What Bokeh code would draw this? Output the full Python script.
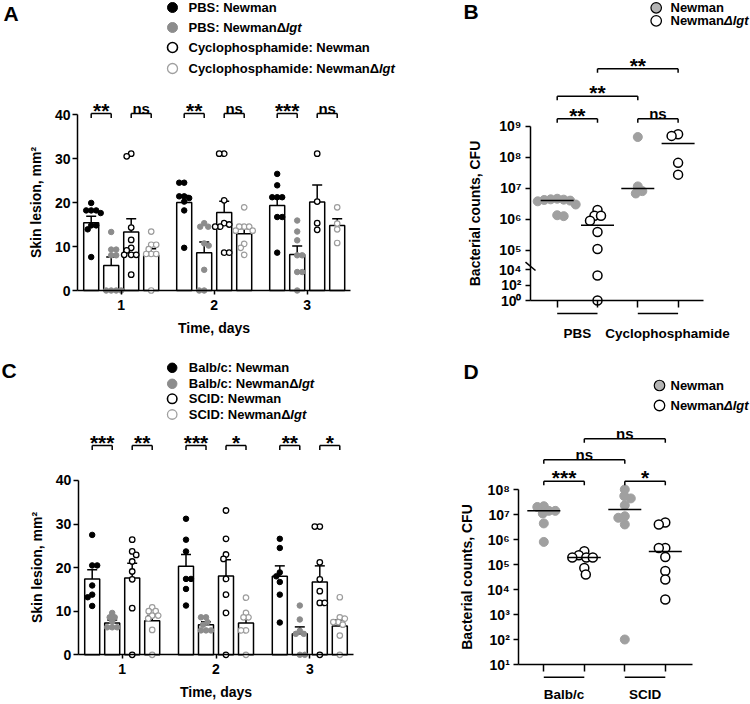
import math
from bokeh.plotting import figure
from bokeh.models import FixedTicker, Range1d
from bokeh.layouts import column, row
from bokeh.embed import file_html
from bokeh.resources import INLINE
from bokeh.core.properties import value

FONT = "Liberation Sans"

# ======================= DATA =======================
# ---- Panel A: skin lesion (mm^2), PBS vs cyclophosphamide ----
a_days = [1, 2, 3]
a_series = ["PBS: Newman", "PBS: NewmanΔlgt", "Cyclophosphamide: Newman", "Cyclophosphamide: NewmanΔlgt"]
a_mean_pbs_newman = [15.4, 20.0, 19.3]
a_sem_pbs_newman = [1.5, 1.6, 1.6]
a_mean_pbs_lgt = [5.7, 8.6, 8.2]
a_sem_pbs_lgt = [1.9, 2.4, 1.9]
a_mean_cyc_newman = [13.3, 17.7, 20.1]
a_sem_cyc_newman = [3.0, 2.6, 3.9]
a_mean_cyc_lgt = [8.0, 12.9, 14.8]
a_sem_cyc_lgt = [1.5, 1.2, 1.5]
a_pts_pbs_newman = [[19.9, 18.2, 18.2, 18.2, 17.6, 14.8, 14.8, 13.9, 7.6],
                    [24.5, 24.5, 21.4, 21.4, 21.0, 20.2, 18.2, 9.7],
                    [26.5, 23.9, 21.2, 21.2, 21.2, 16.7, 16.7, 8.6]]
a_pts_pbs_lgt = [[13.3, 9.3, 9.3, 8.0, 8.0, 0, 0, 0, 0],
                 [15.3, 14.5, 14.5, 10.7, 10.2, 4.7, 0, 0],
                 [15.9, 13.4, 11.4, 8.0, 8.0, 4.2, 4.2, 0]]
a_pts_cyc_newman = [[31.1, 30.5, 14.3, 11.5, 9.7, 9.1, 8.1, 8.1, 8.1, 3.6],
                    [31.1, 31.1, 20.5, 15.3, 15.0, 14.5, 14.5, 8.6, 8.6],
                    [31.1, 20.2, 15.3, 13.8]]
a_pts_cyc_lgt = [[13.4, 10.4, 10.4, 9.4, 8.3, 8.3, 8.3, 0],
                 [18.9, 14.5, 14.5, 14.5, 13.6, 13.6, 10.6, 9.7, 8.1],
                 [18.9, 15.2, 13.9, 10.8]]
a_sig = [["**", "ns"], ["**", "ns"], ["***", "ns"]]
a_yticks = [0, 10, 20, 30, 40]

# ---- Panel B: bacterial counts (CFU), PBS vs cyclophosphamide ----
b_groups = ["PBS", "Cyclophosphamide"]
b_series = ["Newman", "NewmanΔlgt"]
b_pbs_newman = [4.6e6, 4.4e6, 4.3e6, 4.2e6, 4.0e6, 3.8e6, 3.0e6, 1.35e6, 1.26e6]
b_pbs_lgt = [2.0e6, 1.3e6, 1.3e6, 9.0e5, 3.9e5, 1.1e5, 1.7e3, 1.0]
b_cyc_newman = [4.5e8, 1.15e7, 8.1e6, 6.8e6]
b_cyc_lgt = [5.5e8, 4.9e8, 6.6e7, 2.75e7]
b_ticks = [1e0, 1e2, 1e4, 1e5, 1e6, 1e7, 1e8, 1e9]
b_tick_labels = ["10⁰", "10²", "10⁴", "10⁵", "10⁶", "10⁷", "10⁸", "10⁹"]
b_sig = [(1, 2, "**"), (3, 4, "ns"), (1, 3, "**"), (2, 4, "**")]

# ---- Panel C: skin lesion (mm^2), Balb/c vs SCID ----
c_days = [1, 2, 3]
c_series = ["Balb/c: Newman", "Balb/c: NewmanΔlgt", "SCID: Newman", "SCID: NewmanΔlgt"]
c_mean_balb_newman = [17.4, 20.3, 18.0]
c_sem_balb_newman = [2.1, 2.7, 2.4]
c_mean_balb_lgt = [7.3, 6.9, 4.8]
c_sem_balb_lgt = [0.7, 0.7, 1.6]
c_mean_scid_newman = [17.6, 18.1, 16.7]
c_sem_scid_newman = [3.4, 3.7, 3.7]
c_mean_scid_lgt = [7.8, 7.3, 6.6]
c_sem_scid_lgt = [1.2, 1.4, 1.4]
c_pts_balb_newman = [[27.5, 20.5, 20.5, 15.9, 13.8, 13.2, 11.2],
                     [31.2, 26.4, 23.7, 17.4, 17.4, 15.1, 11.3],
                     [26.6, 24.5, 18.9, 18.0, 16.7, 13.8, 7.4]]
c_pts_balb_lgt = [[9.6, 8.6, 8.6, 7.6, 6.3, 6.3, 6.3],
                  [8.6, 8.6, 7.5, 6.9, 5.6, 5.6, 5.6],
                  [11.3, 8.1, 5.5, 4.8, 4.8, 0, 0]]
c_pts_scid_newman = [[26.4, 23.7, 22.9, 21.4, 19.1, 17.3, 10.7, 0],
                     [33.1, 26.6, 23.0, 22.0, 17.4, 13.8, 9.6, 0],
                     [29.4, 29.4, 21.2, 17.3, 14.6, 11.9, 11.9, 0]]
c_pts_scid_lgt = [[10.9, 10.0, 10.0, 9.0, 9.0, 8.3, 5.7, 0],
                  [13.1, 9.6, 8.6, 8.6, 5.6, 5.6, 0],
                  [13.2, 8.6, 8.3, 7.5, 7.5, 6.9, 4.4, 0]]
c_sig = [["***", "**"], ["***", "*"], ["**", "*"]]
c_yticks = [0, 10, 20, 30, 40]

# ---- Panel D: bacterial counts (CFU), Balb/c vs SCID ----
d_groups = ["Balb/c", "SCID"]
d_series = ["Newman", "NewmanΔlgt"]
d_balb_newman = [2.15e7, 2.0e7, 1.4e7, 1.4e7, 1.1e7, 4.4e6, 8.0e5]
d_balb_lgt = [3.4e5, 2.35e5, 1.9e5, 1.9e5, 1.9e5, 7.2e4, 4.0e4]
d_scid_newman = [1.0e8, 5.5e7, 4.4e7, 2.35e7, 8.5e6, 7.4e6, 4.0e6, 1.0e2]
d_scid_lgt = [4.8e6, 4.0e6, 4.6e5, 4.6e5, 2.0e5, 5.5e4, 2.5e4, 4.0e3]
d_ticks = [1e1, 1e2, 1e3, 1e4, 1e5, 1e6, 1e7, 1e8]
d_tick_labels = ["10¹", "10²", "10³", "10⁴", "10⁵", "10⁶", "10⁷", "10⁸"]
d_sig = [(1, 2, "***"), (3, 4, "*"), (1, 3, "ns"), (2, 4, "ns")]

# ======================= HELPERS =======================
ARIAL_BOLD_W = {'A': 722, 'B': 722, 'C': 722, 'D': 722, 'N': 722, 'P': 667, 'S': 667, 'I': 278,
                'F': 611, 'U': 722, 'a': 556, 'b': 611, 'c': 556, 'd': 611, 'e': 556, 'h': 611,
                'i': 278, 'l': 278, 'm': 889, 'n': 611, 'o': 611, 'p': 611, 's': 556, 'w': 778,
                'y': 556, 't': 333, 'g': 611, ':': 333, ' ': 278, '/': 278, 'Δ': 700}


def text_width(s, size):
    return sum(ARIAL_BOLD_W.get(ch, 600) for ch in s) / 1000.0 * size


class Panel:
    def __init__(self, ox, oy, w, h, x1_px, x_scale, y_ref_px, y_ref_val, y_scale):
        self.x1_px, self.xs = x1_px, x_scale
        self.y_ref_px, self.y_ref_val, self.ys = y_ref_px, y_ref_val, y_scale
        p = figure(width=w, height=h, output_backend="svg", toolbar_location=None,
                   x_range=Range1d(self.X(ox), self.X(ox + w)),
                   y_range=Range1d(self.Y(oy + h), self.Y(oy)), min_border=0)
        p.min_border_left = p.min_border_right = p.min_border_top = p.min_border_bottom = 0
        p.outline_line_color = None
        p.xgrid.visible = False
        p.ygrid.visible = False
        p.background_fill_color = "white"
        p.border_fill_color = "white"
        self.p = p

    def X(self, px):
        return 1 + (px - self.x1_px) / self.xs

    def Y(self, py):
        return self.y_ref_val + (self.y_ref_px - py) / self.ys

    def dx(self, px):
        return px / self.xs

    def text(self, px, py, s, size, style="bold", align="left", baseline="middle", color="black"):
        self.p.text(x=[self.X(px)], y=[self.Y(py)], text=[s], text_font=value(FONT),
                    text_font_size=f"{size}px", text_font_style=style, text_align=align,
                    text_baseline=baseline, text_color=color)


def style_axis(ax, tick_out, label_standoff, axis_label_standoff, tick_size=14, label_size=14):
    ax.axis_line_color = "black"
    ax.axis_line_width = 1.5
    ax.major_tick_line_color = "black"
    ax.major_tick_line_width = 1.5
    ax.major_tick_in = 0
    ax.major_tick_out = tick_out
    ax.minor_tick_line_color = None
    ax.major_label_text_font = FONT
    ax.major_label_text_font_size = f"{tick_size}px"
    ax.major_label_text_font_style = "bold"
    ax.major_label_text_color = "black"
    ax.major_label_standoff = label_standoff
    ax.axis_label_text_font = FONT
    ax.axis_label_text_font_size = f"{label_size}px"
    ax.axis_label_text_font_style = "bold"
    ax.axis_label_text_color = "black"
    ax.axis_label_standoff = axis_label_standoff


def swarm(vals, center, P, d_px, step=0.5):
    order = sorted(range(len(vals)), key=lambda i: -vals[i])
    placed = []
    out = [0.0] * len(vals)
    for n, i in enumerate(order):
        y = vals[i] * P.ys
        k = 0
        found = None
        while found is None:
            if k == 0:
                cands = [0.0]
            elif n % 2 == 0:
                cands = [k * step, -k * step]
            else:
                cands = [-k * step, k * step]
            for off in cands:
                if all((off - qx) ** 2 + (y - qy) ** 2 >= d_px ** 2 - 1e-9 for qx, qy in placed):
                    found = off
                    break
            k += 1
        placed.append((found, y))
        out[i] = center + found / P.xs
    return out


def bracket(P, xa, xb, top_px, leg_px, label):
    p = P.p
    yt, yb = P.Y(top_px), P.Y(top_px + leg_px)
    p.segment(x0=[xa, xa, xb], y0=[yt, yt, yt], x1=[xb, xa, xb], y1=[yt, yb, yb],
              line_color="black", line_width=1.5)
    xm = (xa + xb) / 2
    if label.startswith("*"):
        p.text(x=[xm], y=[P.Y(top_px - 3.5)], text=[label], text_font=value(FONT),
               text_font_size="21px", text_font_style="bold", text_align="center",
               text_baseline="alphabetic", text_color="black")
    else:
        p.text(x=[xm], y=[P.Y(top_px - 5)], text=[label], text_font=value(FONT),
               text_font_size="15px", text_font_style="bold", text_align="center",
               text_baseline="alphabetic", text_color="black")


def legend_entry(P, mx, tx, py, style, msize, head, tail, font_px, tail_style="bold italic"):
    P.p.scatter(x=[P.X(mx)], y=[P.Y(py)], size=msize, marker="circle", **style)
    P.text(tx, py, head, font_px)
    if tail:
        P.text(tx + text_width(head, font_px), py, tail, font_px, style=tail_style)


def split_name(name, delta_in_tail):
    if "Δ" not in name:
        return name, ""
    head, tail = name.split("Δ")
    return (head, "Δ" + tail) if delta_in_tail else (head + "Δ", tail)


BAR_STYLE = [
    dict(fill_color="black", line_color="black", line_width=1.0),
    dict(fill_color="#8c8c8c", line_color="#8c8c8c", line_width=1.0),
    dict(fill_color="white", line_color="black", line_width=1.3),
    dict(fill_color="white", line_color="#9c9c9c", line_width=1.2),
]
LEG_STYLE = [
    dict(fill_color="black", line_color="black", line_width=1.0),
    dict(fill_color="#8c8c8c", line_color="#8c8c8c", line_width=1.0),
    dict(fill_color="white", line_color="black", line_width=1.6),
    dict(fill_color="white", line_color="#a0a0a0", line_width=1.3),
]
BAR_OFF_PX = [-30, -10, 10, 30]


def bar_panel(P, days, means, sems, pts, sig, series, yticks, y_axis_px, x_end_px,
              bracket_top_px, legend_rows, legend_mx, legend_tx, legend_msize,
              letter, letter_xy, xlab_standoff):
    p = P.p
    bw = P.dx(15)
    cw = P.dx(10)
    for s in range(4):
        xs = [d + P.dx(BAR_OFF_PX[s]) for d in days]
        p.vbar(x=xs, top=means[s], width=bw, bottom=0, fill_color="white",
               line_color="black", line_width=1.5)
        tops = [m + e for m, e in zip(means[s], sems[s])]
        p.segment(x0=xs, y0=means[s], x1=xs, y1=tops, line_color="black", line_width=1.5)
        p.segment(x0=[x - cw / 2 for x in xs], y0=tops, x1=[x + cw / 2 for x in xs], y1=tops,
                  line_color="black", line_width=1.5)
    for s in range(4):
        for k, d in enumerate(days):
            cx = d + P.dx(BAR_OFF_PX[s])
            ys = pts[s][k]
            xs = swarm(ys, cx, P, 5.0)
            p.scatter(x=xs, y=ys, size=5.5, marker="circle", **BAR_STYLE[s])
    for k, d in enumerate(days):
        for j in range(2):
            xa = d + P.dx(BAR_OFF_PX[2 * j])
            xb = d + P.dx(BAR_OFF_PX[2 * j + 1])
            bracket(P, xa, xb, bracket_top_px, 4.5, sig[k][j])
    # axes
    xa_ = p.xaxis[0]
    ya_ = p.yaxis[0]
    xa_.fixed_location = 0
    xa_.bounds = (P.X(y_axis_px), P.X(x_end_px))
    xa_.ticker = FixedTicker(ticks=days)
    xa_.axis_label = "Time, days"
    style_axis(xa_, 4, 5, xlab_standoff)
    ya_.fixed_location = P.X(y_axis_px)
    ya_.bounds = (yticks[0], yticks[-1])
    ya_.ticker = FixedTicker(ticks=yticks)
    ya_.axis_label = "Skin lesion, mm²"
    style_axis(ya_, 5, 2, 8)
    # legend
    for s in range(4):
        head, tail = split_name(series[s], False)
        legend_entry(P, legend_mx, legend_tx, legend_rows[s], LEG_STYLE[s], legend_msize, head, tail, 13)
    P.text(letter_xy[0], letter_xy[1], letter, 21, baseline="top")


PT_STYLE_B = [
    dict(fill_color="#a0a0a0", line_color="#a0a0a0", line_width=1.0),
    dict(fill_color="white", line_color="black", line_width=1.5),
]
LEG_STYLE_B = [
    dict(fill_color="#b4b4b4", line_color="black", line_width=1.2),
    dict(fill_color="white", line_color="black", line_width=1.3),
]


def lin_median(v):
    s = sorted(v)
    n = len(s)
    return s[n // 2] if n % 2 else (s[n // 2 - 1] + s[n // 2]) / 2


def scatter_panel(P, tf, groups_vals, groups, series, ticks, tick_labels, sig, sig_tops,
                  y_axis_px, x_end_px, axis_y0, group_line_px, group_label_px, group_label_shift,
                  legend_rows, legend_mx, legend_tx, letter, letter_xy, ylab_standoff):
    p = P.p
    half = P.dx(16.5)
    for i, vals in enumerate(groups_vals):
        cx = i + 1
        ys = [tf(v) for v in vals]
        xs = swarm(ys, cx, P, 6.5)
        p.scatter(x=xs, y=ys, size=9, marker="circle", **PT_STYLE_B[i % 2])
        m = tf(lin_median(vals))
        p.segment(x0=[cx - half], y0=[m], x1=[cx + half], y1=[m], line_color="black", line_width=1.5)
    for (i, j, lab), top in zip(sig, sig_tops):
        bracket(P, i, j, top, 4.0, lab)
    # axes
    xa_ = p.xaxis[0]
    ya_ = p.yaxis[0]
    xa_.fixed_location = axis_y0
    xa_.bounds = (P.X(y_axis_px), P.X(x_end_px))
    xa_.ticker = FixedTicker(ticks=[1, 2, 3, 4])
    xa_.major_label_overrides = {1: "", 2: "", 3: "", 4: ""}
    style_axis(xa_, 7, 2, 0)
    tpos = [round(tf(t), 6) for t in ticks]
    ya_.fixed_location = P.X(y_axis_px)
    ya_.bounds = (tpos[0], tpos[-1])
    ya_.ticker = FixedTicker(ticks=tpos)
    ya_.major_label_overrides = {t: lab for t, lab in zip(tpos, tick_labels)}
    ya_.axis_label = "Bacterial counts, CFU"
    style_axis(ya_, 5, 4, ylab_standoff)
    # group lines + labels
    yl = P.Y(group_line_px)
    p.segment(x0=[1, 3], y0=[yl, yl], x1=[2, 4], y1=[yl, yl], line_color="black", line_width=1.5)
    for g, name in enumerate(groups):
        gx = 1.5 + 2 * g + P.dx(group_label_shift[g])
        p.text(x=[gx], y=[P.Y(group_label_px)], text=[name], text_font=value(FONT),
               text_font_size="13.5px", text_font_style="bold", text_align="center",
               text_baseline="alphabetic", text_color="black")
    # legend
    for s in range(2):
        head, tail = split_name(series[s], True)
        legend_entry(P, legend_mx, legend_tx, legend_rows[s], LEG_STYLE_B[s], 10.5, head, tail, 13)
    P.text(letter_xy[0], letter_xy[1], letter, 21, baseline="top")


# ======================= PANELS =======================
PA = Panel(0, 0, 418, 355, x1_px=120.7, x_scale=93.0, y_ref_px=290, y_ref_val=0, y_scale=4.4)
bar_panel(PA, a_days,
          [a_mean_pbs_newman, a_mean_pbs_lgt, a_mean_cyc_newman, a_mean_cyc_lgt],
          [a_sem_pbs_newman, a_sem_pbs_lgt, a_sem_cyc_newman, a_sem_cyc_lgt],
          [a_pts_pbs_newman, a_pts_pbs_lgt, a_pts_cyc_newman, a_pts_cyc_lgt],
          a_sig, a_series, a_yticks, y_axis_px=77, x_end_px=350, bracket_top_px=113,
          legend_rows=[7, 27, 47, 68], legend_mx=172, legend_tx=188, legend_msize=10,
          letter="A", letter_xy=(3, 1), xlab_standoff=7)


def b_tf(v):
    L = math.log10(v)
    return 0.25 * L if L <= 4 else L - 3.38


PB = Panel(418, 0, 332, 355, x1_px=556.7, x_scale=40.3, y_ref_px=300, y_ref_val=0, y_scale=31.0)
scatter_panel(PB, b_tf, [b_pbs_newman, b_pbs_lgt, b_cyc_newman, b_cyc_lgt], b_groups, b_series,
              b_ticks, b_tick_labels, b_sig, [118.3, 118.3, 95.7, 68.3],
              y_axis_px=530, x_end_px=703, axis_y0=0, group_line_px=313, group_label_px=333,
              group_label_shift=[0, 9.5], legend_rows=[7.3, 20.3], legend_mx=655.7, legend_tx=670,
              letter="B", letter_xy=(463, -1), ylab_standoff=13)
# axis break mark
PB.p.segment(x0=[PB.X(525)], y0=[PB.Y(261.7)], x1=[PB.X(535)], y1=[PB.Y(270)],
             line_color="black", line_width=1.5)

PC = Panel(0, 355, 418, 349, x1_px=121.7, x_scale=93.8, y_ref_px=654.3, y_ref_val=0, y_scale=4.36)
bar_panel(PC, c_days,
          [c_mean_balb_newman, c_mean_balb_lgt, c_mean_scid_newman, c_mean_scid_lgt],
          [c_sem_balb_newman, c_sem_balb_lgt, c_sem_scid_newman, c_sem_scid_lgt],
          [c_pts_balb_newman, c_pts_balb_lgt, c_pts_scid_newman, c_pts_scid_lgt],
          c_sig, c_series, c_yticks, y_axis_px=77.7, x_end_px=353, bracket_top_px=445,
          legend_rows=[367.3, 383.3, 398.3, 414], legend_mx=171.7, legend_tx=188.3, legend_msize=9.5,
          letter="C", letter_xy=(1, 358), xlab_standoff=7)


def d_tf(v):
    return math.log10(v)


PD = Panel(418, 355, 332, 349, x1_px=543.3, x_scale=40.5, y_ref_px=664, y_ref_val=1, y_scale=25.0)
scatter_panel(PD, d_tf, [d_balb_newman, d_balb_lgt, d_scid_newman, d_scid_lgt], d_groups, d_series,
              d_ticks, d_tick_labels, d_sig, [480.7, 480.7, 459.3, 438.3],
              y_axis_px=518.3, x_end_px=691.7, axis_y0=1, group_line_px=676.7, group_label_px=694,
              group_label_shift=[0, 0], legend_rows=[385, 405], legend_mx=659, legend_tx=670,
              letter="D", letter_xy=(463, 359), ylab_standoff=9)

layout = column(row(PA.p, PB.p), row(PC.p, PD.p))
open("out.html", "w").write(file_html(layout, INLINE, "Figure"))
